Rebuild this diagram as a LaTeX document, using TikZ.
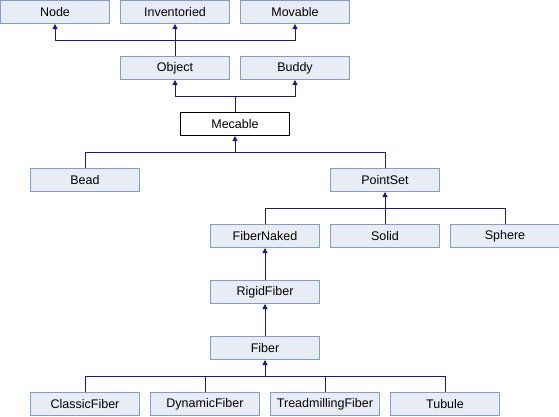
\documentclass[tikz,border=0pt]{standalone}
\usepackage{fontspec}
\setmainfont{Liberation Sans}
\usepackage{tikz}
\usetikzlibrary{arrows.meta}
\definecolor{boxfill}{RGB}{232,236,245}
\definecolor{boxline}{RGB}{132,155,204}
\definecolor{linkline}{RGB}{25,25,140}

\begin{document}
\begin{tikzpicture}[x=1pt,y=-1pt,
  cls/.style={draw=boxline,fill=boxfill,line width=1pt,minimum width=109pt,minimum height=23pt,inner sep=0pt,font=\fontsize{12.5}{14}\selectfont},
  cur/.style={cls,draw=black,fill=white},
  link/.style={draw=linkline,line width=1pt},
  arr/.style={link,-{Triangle[length=5pt,width=5pt]}}]
 \useasboundingbox (0,0) rectangle (559,416);
 % base classes
 \node[cls] (node) at (55,12) {Node};
 \node[cls] (inventoried) at (175,12) {Inventoried};
 \node[cls] (movable) at (295,12) {Movable};
 \node[cls] (object) at (175,68) {Object};
 \node[cls] (buddy) at (295,68) {Buddy};
 \node[cur] (mecable) at (235,124) {Mecable};
 \node[cls] (bead) at (85,180) {Bead};
 \node[cls] (pointset) at (385,180) {PointSet};
 \node[cls] (fibernaked) at (265,236) {FiberNaked};
 \node[cls] (solid) at (385,236) {Solid};
 \node[cls] (sphere) at (505,236) {Sphere};
 \node[cls] (rigidfiber) at (265,292) {RigidFiber};
 \node[cls] (fiber) at (265,348) {Fiber};
 \node[cls] (classicfiber) at (85,404) {ClassicFiber};
 \node[cls] (dynamicfiber) at (205,404) {DynamicFiber};
 \node[cls] (treadmillingfiber) at (325,404) {TreadmillingFiber};
 \node[cls] (tubule) at (445,404) {Tubule};
 % buses
 \coordinate (bus1) at (175,40);
 \coordinate (bus2) at (235,96);
 \coordinate (bus3) at (235,152);
 \coordinate (bus4) at (385,208);
 \coordinate (bus5) at (265,376);
 % Object
 \draw[arr] (object.north) -- (inventoried.south);
 \draw[arr] (bus1) -| (node.south);
 \draw[arr] (bus1) -| (movable.south);
 % Mecable
 \draw[link] (mecable.north) -- (bus2);
 \draw[arr] (bus2) -| (object.south);
 \draw[arr] (bus2) -| (buddy.south);
 % Bead, PointSet
 \draw[arr] (bus3) -- (mecable.south);
 \draw[link] (bead.north) |- (bus3);
 \draw[link] (pointset.north) |- (bus3);
 % FiberNaked, Solid, Sphere
 \draw[arr] (solid.north) -- (pointset.south);
 \draw[link] (fibernaked.north) |- (bus4);
 \draw[link] (sphere.north) |- (bus4);
 % fiber chain
 \draw[arr] (rigidfiber.north) -- (fibernaked.south);
 \draw[arr] (fiber.north) -- (rigidfiber.south);
 \draw[arr] (bus5) -- (fiber.south);
 \draw[link] (classicfiber.north) |- (bus5);
 \draw[link] (dynamicfiber.north) |- (bus5);
 \draw[link] (treadmillingfiber.north) |- (bus5);
 \draw[link] (tubule.north) |- (bus5);
\end{tikzpicture}
\end{document}
